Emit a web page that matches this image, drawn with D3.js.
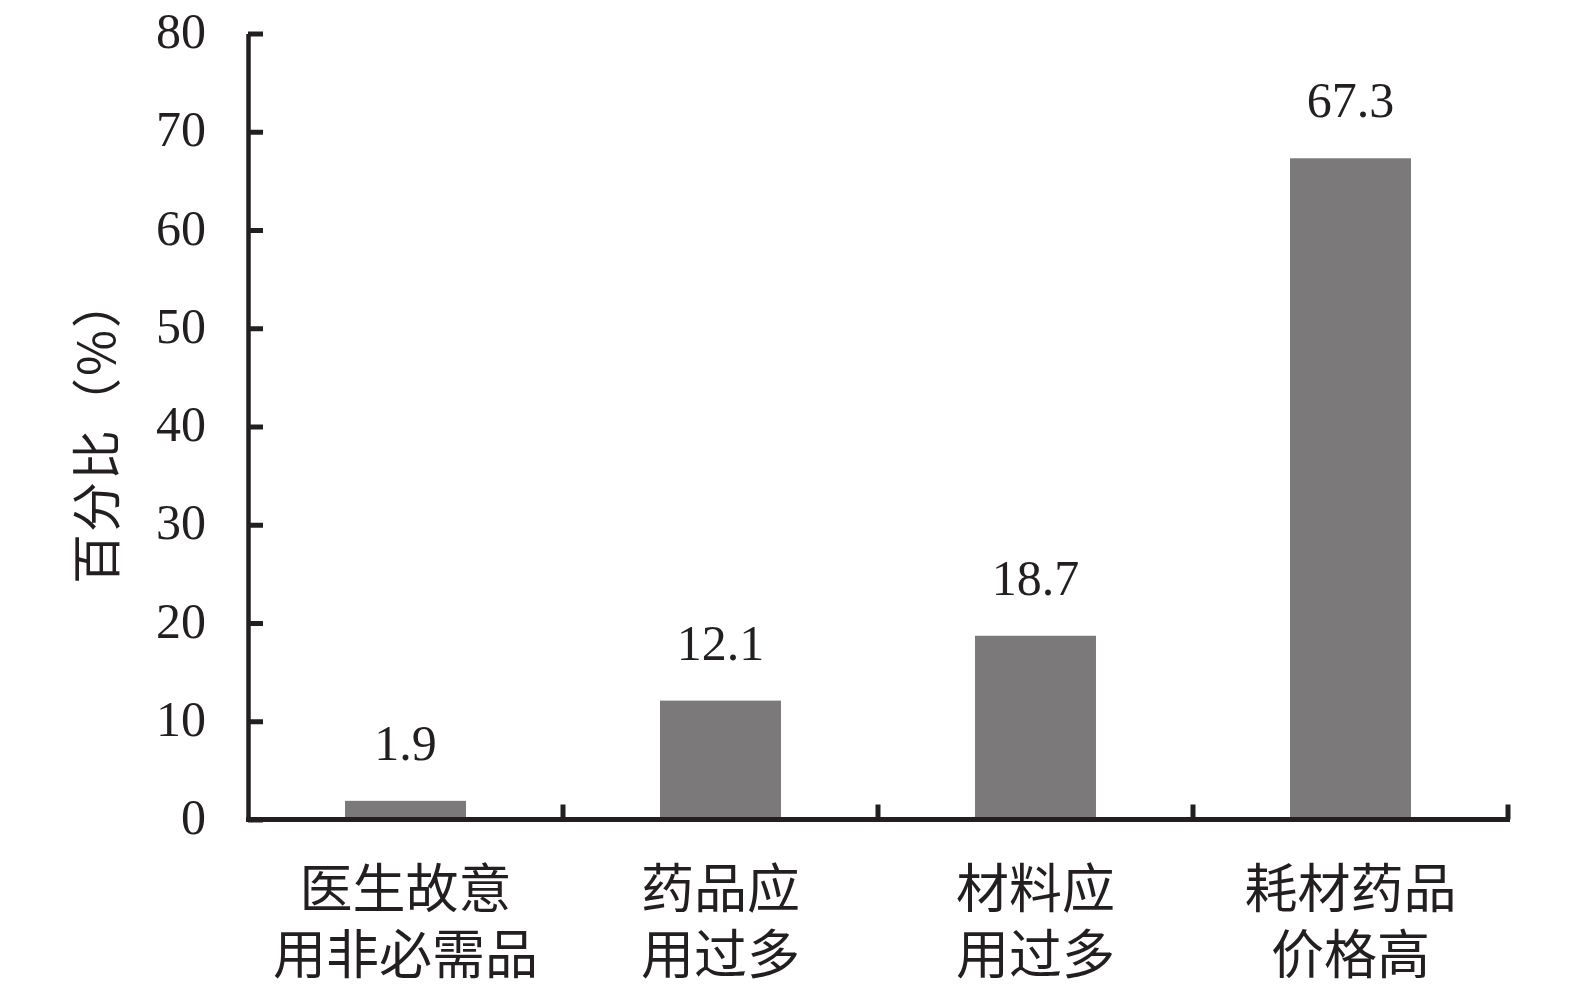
<!DOCTYPE html>
<html>
<head>
<meta charset="utf-8">
<script src="https://cdn.jsdelivr.net/npm/d3@7"></script>
<style>
  html, body { margin: 0; padding: 0; background: #fff; }
  svg { display: block; }
</style>
</head>
<body>
<svg id="chart" width="1575" height="992"></svg>
<script>
const categories = [["医生故意", "用非必需品"], ["药品应", "用过多"], ["材料应", "用过多"], ["耗材药品", "价格高"]];
const values = [1.9, 12.1, 18.7, 67.3];
const valueLabels = ["1.9", "12.1", "18.7", "67.3"];
const yTicks = [0, 10, 20, 30, 40, 50, 60, 70, 80];
const yTitle = "百分比（%）";

const ink = "#231f20";
const barColor = "#7b797a";
const numFont = "'Liberation Serif', 'DejaVu Serif', serif";
const cjkFont = "'Noto Sans CJK SC', 'Noto Sans', sans-serif";

const svg = d3.select("#chart");
const x0 = 248, x1 = 1508, yTop = 33.5, yZero = 819.5;

const x = d3.scaleBand()
  .domain(d3.range(categories.length))
  .range([x0, x1])
  .paddingInner(0.616)
  .paddingOuter(0.308);

const y = d3.scaleLinear().domain([0, 80]).range([yZero, yTop]);

// bars
svg.append("g").selectAll("rect")
  .data(values)
  .join("rect")
  .attr("x", (d, i) => x(i))
  .attr("width", x.bandwidth())
  .attr("y", d => y(d))
  .attr("height", d => y(0) - y(d))
  .attr("fill", barColor);

// value labels
svg.append("g").selectAll("text")
  .data(values)
  .join("text")
  .attr("x", (d, i) => x(i) + x.bandwidth() / 2)
  .attr("y", d => y(d) - 41)
  .attr("text-anchor", "middle")
  .attr("font-family", numFont)
  .attr("font-size", 50)
  .attr("fill", ink)
  .text((d, i) => valueLabels[i]);

// y axis
const yAxis = d3.axisLeft(y).tickValues(yTicks).tickSize(-15).tickPadding(42).tickSizeOuter(0);
const gy = svg.append("g").attr("transform", `translate(${x0},0)`).call(yAxis);
gy.select(".domain").attr("stroke", ink).attr("stroke-width", 4.5);
gy.selectAll(".tick line").attr("stroke", ink).attr("stroke-width", 5);
gy.selectAll(".tick text")
  .attr("font-family", numFont)
  .attr("font-size", 50)
  .attr("fill", ink)
  .attr("dy", "0.28em")
  .attr("x", -42);

// x axis: ticks at category boundaries
const boundaries = d3.range(1, categories.length + 1).map(i => x0 + (x1 - x0) * i / categories.length);
const gx = svg.append("g");
gx.append("line")
  .attr("x1", x0 - 2).attr("x2", x1 + 2)
  .attr("y1", yZero).attr("y2", yZero)
  .attr("stroke", ink).attr("stroke-width", 5);
gx.selectAll("line.tk")
  .data(boundaries)
  .join("line")
  .attr("class", "tk")
  .attr("x1", d => d).attr("x2", d => d)
  .attr("y1", yZero).attr("y2", yZero - 15)
  .attr("stroke", ink).attr("stroke-width", 5);

// category labels
const catG = svg.append("g");
categories.forEach((lines, i) => {
  const t = catG.append("text")
    .attr("text-anchor", "middle")
    .attr("font-family", cjkFont)
    .attr("font-size", 53)
    .attr("fill", ink);
  lines.forEach((ln, j) => {
    t.append("tspan")
      .attr("x", x(i) + x.bandwidth() / 2)
      .attr("y", 908 + j * 66)
      .text(ln);
  });
});

// y title
svg.append("text")
  .attr("transform", `translate(115,430) rotate(-90)`)
  .attr("text-anchor", "middle")
  .attr("font-family", cjkFont)
  .attr("font-size", 50)
  .attr("letter-spacing", 2)
  .attr("fill", ink)
  .text(yTitle);
</script>
</body>
</html>
